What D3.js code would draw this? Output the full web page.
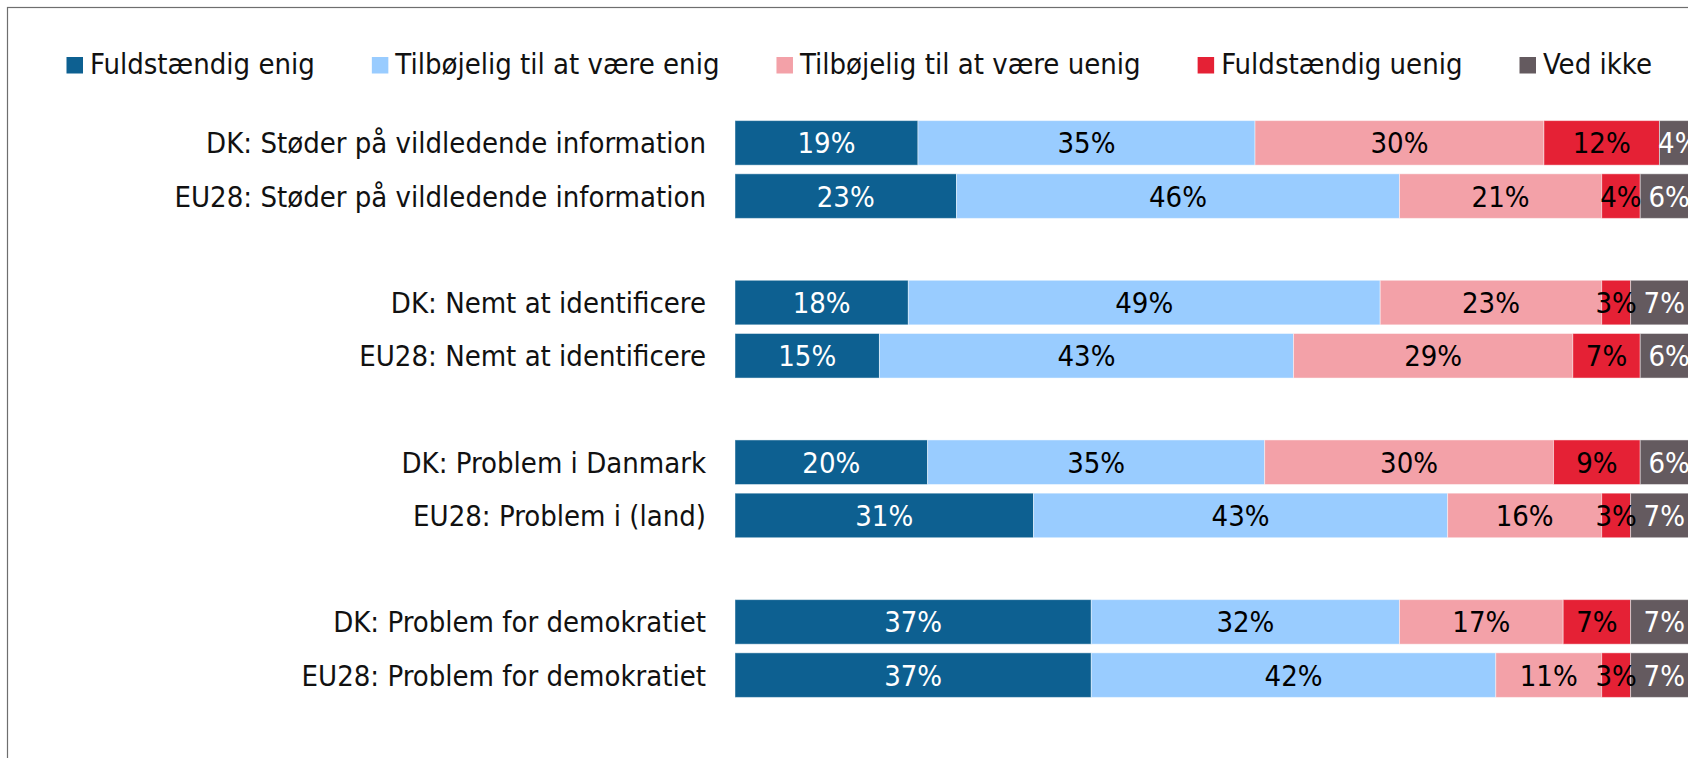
<!DOCTYPE html>
<html>
<head>
<meta charset="utf-8">
<script src="https://cdn.jsdelivr.net/npm/d3@7"></script>
<style>
  html, body { margin: 0; padding: 0; background: #ffffff; }
  svg { display: block; }
  text { font-family: "DejaVu Sans Condensed", "DejaVu Sans", sans-serif; font-stretch: condensed; }
</style>
</head>
<body>
<svg id="chart" width="1688" height="758"></svg>
<script>
// ---- Data ----
const categories = [
  "DK: Støder på vildledende information",
  "EU28: Støder på vildledende information",
  "DK: Nemt at identificere",
  "EU28: Nemt at identificere",
  "DK: Problem i Danmark",
  "EU28: Problem i (land)",
  "DK: Problem for demokratiet",
  "EU28: Problem for demokratiet"
];
const seriesNames = ["Fuldstændig enig", "Tilbøjelig til at være enig", "Tilbøjelig til at være uenig", "Fuldstændig uenig", "Ved ikke"];
const fuldstaendigEnig   = [19, 23, 18, 15, 20, 31, 37, 37];
const tilboejeligEnig    = [35, 46, 49, 43, 35, 43, 32, 42];
const tilboejeligUenig   = [30, 21, 23, 29, 30, 16, 17, 11];
const fuldstaendigUenig  = [12, 4, 3, 7, 9, 3, 7, 3];
const vedIkke            = [4, 6, 7, 6, 6, 7, 7, 7];
const seriesColors = ["#0d6091", "#99ccff", "#f3a1a8", "#e52135", "#645a5f"];
const labelColors  = ["#ffffff", "#000000", "#000000", "#000000", "#ffffff"];
// slots: groups of two bars separated by an empty slot
const slotOrder = [0, 1, null, 2, 3, null, 4, 5, null, 6, 7];

// ---- Build ----
const svg = d3.select("#chart");
const W = 1688, H = 758;

// frame
svg.append("rect")
  .attr("x", 7.5).attr("y", 7.5)
  .attr("width", 1720).attr("height", 800)
  .attr("fill", "none").attr("stroke", "#6e6e6e").attr("stroke-width", 1.2);

const rows = categories.map((c, i) => {
  const vals = [fuldstaendigEnig[i], tilboejeligEnig[i], tilboejeligUenig[i], fuldstaendigUenig[i], vedIkke[i]];
  let acc = 0;
  const segs = vals.map((v, k) => { const s = {k, v, x0: acc, x1: acc + v}; acc += v; return s; });
  return {cat: c, segs};
});

const slotKeys = slotOrder.map((s, i) => s === null ? "gap" + i : categories[s]);

const y = d3.scaleBand()
  .domain(slotKeys)
  .range([120.6, 697.4])
  .paddingInner(0.163)
  .paddingOuter(0);

const x = d3.scaleLinear().domain([0, 100]).range([735, 1698]);

// category labels
svg.append("g").selectAll("text")
  .data(rows).join("text")
  .attr("x", 706)
  .attr("y", d => y(d.cat) + y.bandwidth() / 2)
  .attr("dy", "0.36em")
  .attr("text-anchor", "end")
  .attr("font-size", 29)
  .attr("fill", "#111111")
  .text(d => d.cat);

// bars
const rowG = svg.append("g").selectAll("g")
  .data(rows).join("g")
  .attr("transform", d => `translate(0,${y(d.cat)})`);

rowG.selectAll("rect")
  .data(d => d.segs).join("rect")
  .attr("x", s => x(s.x0))
  .attr("y", 0)
  .attr("width", s => x(s.x1) - x(s.x0))
  .attr("height", y.bandwidth())
  .attr("fill", s => seriesColors[s.k])
  .attr("stroke", "rgba(255,255,255,0.45)")
  .attr("stroke-width", 1);

rowG.selectAll("text")
  .data(d => d.segs).join("text")
  .attr("x", s => (x(s.x0) + x(s.x1)) / 2)
  .attr("y", y.bandwidth() / 2)
  .attr("dy", "0.36em")
  .attr("text-anchor", "middle")
  .attr("font-size", 29)
  .attr("fill", s => labelColors[s.k])
  .text(s => s.v + "%");

// legend
const legend = svg.append("g");
let lx = 66.5;
seriesNames.forEach((name, k) => {
  const g = legend.append("g").attr("transform", `translate(${lx},0)`);
  g.append("rect").attr("x", 0).attr("y", 57).attr("width", 16.5).attr("height", 16.5)
    .attr("fill", seriesColors[k]);
  const t = g.append("text").attr("x", 23.5).attr("y", 74)
    .attr("font-size", 29).attr("fill", "#111111").text(name);
  const w = t.node().getComputedTextLength();
  lx += 23.5 + w + 57;
});
</script>
</body>
</html>
